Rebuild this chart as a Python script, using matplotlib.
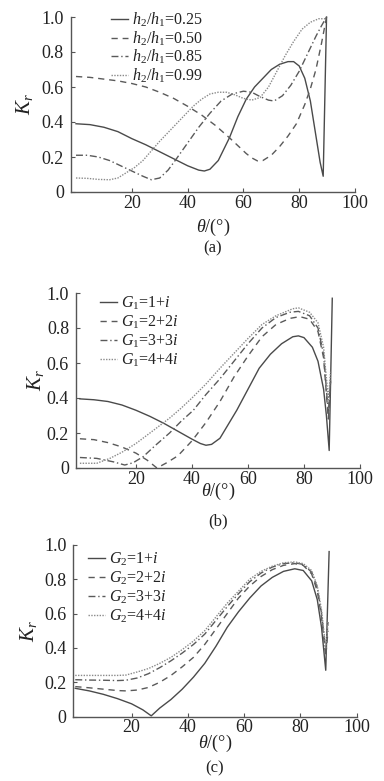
import numpy as np
import matplotlib
matplotlib.use("Agg")
import matplotlib.pyplot as plt

plt.rcParams['font.family'] = ['Liberation Serif', 'DejaVu Serif']
plt.rcParams['mathtext.fontset'] = 'custom'
plt.rcParams['mathtext.rm'] = 'Liberation Serif'
plt.rcParams['mathtext.it'] = 'Liberation Serif:italic'

# ---- panel (a): h2/h1 ----
a_labels = [r'$h_2/h_1$=0.25', r'$h_2/h_1$=0.50', r'$h_2/h_1$=0.85', r'$h_2/h_1$=0.99']
a1_x = [0, 5, 10, 15, 20, 25, 30, 35, 40, 44, 46, 48, 51, 55, 58, 61, 64, 67, 70, 73, 76, 78, 80, 82, 84, 86, 87.5, 88.6, 89.8]
a1_y = [0.39, 0.385, 0.37, 0.345, 0.305, 0.27, 0.23, 0.19, 0.15, 0.125, 0.12, 0.13, 0.18, 0.31, 0.43, 0.53, 0.6, 0.65, 0.7, 0.73, 0.745, 0.745, 0.72, 0.65, 0.52, 0.32, 0.17, 0.09, 1.0]
a2_x = [0, 5, 10, 15, 20, 25, 30, 35, 40, 45, 50, 55, 58, 61, 63, 65, 67, 70, 73, 76, 79, 82, 84, 86, 88, 89.8]
a2_y = [0.66, 0.655, 0.645, 0.635, 0.62, 0.6, 0.57, 0.535, 0.49, 0.44, 0.38, 0.31, 0.265, 0.22, 0.195, 0.178, 0.18, 0.21, 0.26, 0.32, 0.39, 0.5, 0.59, 0.7, 0.85, 1.0]
a3_x = [0, 4, 8, 12, 16, 20, 24, 27, 30, 33, 36, 40, 44, 48, 52, 56, 60, 63, 66, 69, 71, 74, 77, 80, 83, 86, 88, 89.8]
a3_y = [0.21, 0.21, 0.2, 0.18, 0.15, 0.12, 0.09, 0.07, 0.08, 0.125, 0.19, 0.28, 0.37, 0.45, 0.52, 0.56, 0.576, 0.57, 0.545, 0.525, 0.52, 0.55, 0.61, 0.69, 0.79, 0.89, 0.95, 1.0]
a4_x = [0, 4, 8, 12, 15, 18, 21, 24, 27, 30, 33, 36, 39, 42, 45, 48, 51, 54, 57, 60, 63, 66, 69, 72, 75, 78, 81, 84, 87, 89.8]
a4_y = [0.08, 0.078, 0.072, 0.07, 0.08, 0.11, 0.14, 0.18, 0.235, 0.29, 0.34, 0.39, 0.44, 0.49, 0.53, 0.56, 0.57, 0.57, 0.555, 0.535, 0.525, 0.54, 0.6, 0.69, 0.78, 0.86, 0.93, 0.97, 0.99, 0.99]

# ---- panel (b): G1 ----
b_labels = [r'$G_1$=1+$i$', r'$G_1$=2+2$i$', r'$G_1$=3+3$i$', r'$G_1$=4+4$i$']
b1_x = [0, 5, 10, 15, 20, 25, 30, 35, 40, 43, 45, 47, 50, 53, 56, 60, 64, 68, 72, 76, 78, 80, 83, 85, 87, 88, 89, 90.1]
b1_y = [0.395, 0.39, 0.38, 0.36, 0.33, 0.295, 0.255, 0.21, 0.165, 0.14, 0.13, 0.135, 0.17, 0.25, 0.33, 0.45, 0.57, 0.65, 0.71, 0.75, 0.755, 0.745, 0.69, 0.61, 0.45, 0.3, 0.1, 0.97]
b2_x = [0, 5, 10, 15, 20, 24, 27.5, 31, 35, 40, 45, 50, 55, 60, 65, 70, 75, 78.5, 82, 85, 87, 88.7, 89.5]
b2_y = [0.167, 0.162, 0.145, 0.12, 0.085, 0.045, 0.0, 0.03, 0.07, 0.155, 0.26, 0.38, 0.52, 0.64, 0.75, 0.82, 0.855, 0.865, 0.85, 0.78, 0.63, 0.28, 0.5]
b3_x = [0, 6, 12, 16, 19, 22.6, 27, 32, 36, 40.5, 45, 50, 55, 60, 65, 70, 75, 78, 82, 85, 87, 88.7, 89.5]
b3_y = [0.06, 0.055, 0.035, 0.017, 0.03, 0.065, 0.13, 0.2, 0.265, 0.33, 0.42, 0.51, 0.61, 0.71, 0.8, 0.86, 0.89, 0.895, 0.87, 0.8, 0.65, 0.31, 0.5]
b4_x = [0, 6, 10.7, 15, 20, 25, 32, 36, 40, 45, 50, 55, 60, 65, 70, 76, 78, 82, 85, 87, 88.7, 89.5]
b4_y = [0.027, 0.027, 0.055, 0.09, 0.14, 0.2, 0.285, 0.34, 0.4, 0.48, 0.57, 0.655, 0.74, 0.82, 0.87, 0.91, 0.915, 0.89, 0.83, 0.69, 0.39, 0.55]

# ---- panel (c): G2 ----
c_labels = [r'$G_2$=1+$i$', r'$G_2$=2+2$i$', r'$G_2$=3+3$i$', r'$G_2$=4+4$i$']
c1_x = [0, 5, 10, 15, 20, 24, 27, 30, 34, 38, 42, 46, 50, 54, 58, 62, 66, 70, 74, 78, 81, 84, 86, 87.5, 89, 90.2]
c1_y = [0.165, 0.15, 0.13, 0.105, 0.075, 0.04, 0.005, 0.05, 0.1, 0.16, 0.23, 0.31, 0.41, 0.52, 0.61, 0.69, 0.76, 0.81, 0.845, 0.86, 0.85, 0.79, 0.68, 0.52, 0.27, 0.96]
c_x = [0, 5, 10, 15, 18, 22, 26, 30, 34, 38, 42, 46, 50, 54, 58, 62, 66, 70, 74, 78, 81, 84, 86, 87.5, 89, 89.8]
c2_y = [0.175, 0.168, 0.16, 0.152, 0.15, 0.155, 0.17, 0.2, 0.24, 0.29, 0.345, 0.42, 0.51, 0.6, 0.69, 0.76, 0.815, 0.855, 0.88, 0.89, 0.88, 0.83, 0.73, 0.58, 0.35, 0.5]
c3_y = [0.215, 0.213, 0.212, 0.21, 0.212, 0.225, 0.25, 0.285, 0.325, 0.37, 0.42, 0.48, 0.56, 0.64, 0.715, 0.785, 0.835, 0.87, 0.89, 0.895, 0.885, 0.84, 0.75, 0.6, 0.38, 0.55]
c4_y = [0.24, 0.24, 0.24, 0.24, 0.242, 0.26, 0.28, 0.31, 0.345, 0.39, 0.44, 0.5, 0.58, 0.66, 0.73, 0.8, 0.845, 0.875, 0.895, 0.9, 0.89, 0.85, 0.76, 0.62, 0.4, 0.55]

x_ticks = [20, 40, 60, 80, 100]
y_ticks = [0, 0.2, 0.4, 0.6, 0.8, 1.0]
y_ticklabels = ['0', '0.2', '0.4', '0.6', '0.8', '1.0']

styles = [dict(ls='-', color='#4a4a4a', lw=1.0),
          dict(ls=(0, (4.5, 3.5)), color='#5a5a5a', lw=1.0),
          dict(ls=(0, (5, 2, 1, 2)), color='#5a5a5a', lw=1.0),
          dict(ls=(0, (1, 1)), color='#8a8a8a', lw=1.0)]

W, H = 384, 781
fig = plt.figure(figsize=(W / 100, H / 100), dpi=100)


def make_panel(left, right, bottom, top, xmin, series, labels, leg_px, leg_sp,
               ylab_px, xlab_py, cap, cap_py):
    ax = fig.add_axes([left / W, (H - bottom) / H, (right - left) / W, (bottom - top) / H])
    for (xs, ys), st, lab in zip(series, styles, labels):
        ax.plot(xs, ys, label=lab, clip_on=False, **st)
    ax.set_xlim(xmin, 100)
    ax.set_ylim(0, 1)
    ax.set_xticks(x_ticks)
    ax.set_yticks(y_ticks)
    ax.set_yticklabels(y_ticklabels)
    for s in ['top', 'right']:
        ax.spines[s].set_visible(False)
    for s in ['left', 'bottom']:
        ax.spines[s].set_color('#555555')
        ax.spines[s].set_linewidth(1.0)
    ax.tick_params(direction='in', length=3, width=0.8, color='#555555',
                   labelsize=13, labelcolor='#222222')
    ax.tick_params(axis='x', pad=2)
    ax.tick_params(axis='y', pad=5)
    w = right - left
    h = bottom - top
    # label anchors: ylabel right edge, xlabel top edge
    ax.set_ylabel(r'$K_r$', fontsize=15, color='#222222')
    ax.yaxis.set_label_coords((ylab_px - left) / w, 0.5)
    ax.set_xlabel(r'$\theta$/(°)', fontsize=13, color='#222222')
    ax.xaxis.set_label_coords(0.5, (bottom - xlab_py) / h)
    ax.text(0.5, (bottom - cap_py) / h, cap, transform=ax.transAxes,
            ha='center', va='center', fontsize=12, color='#222222')
    ax.legend(loc='upper left', bbox_to_anchor=((leg_px[0] - left) / w, (bottom - leg_px[1]) / h),
              frameon=False, fontsize=11.5, handlelength=1.05, handletextpad=0.25,
              labelspacing=leg_sp, borderpad=0, borderaxespad=0, labelcolor='#222222')
    return ax


make_panel(70.7, 355, 192, 17, -1.9,
           [(a1_x, a1_y), (a2_x, a2_y), (a3_x, a3_y), (a4_x, a4_y)], a_labels,
           (111, 11), 0.0, 35, 217, '(a)', 248)
make_panel(76, 360, 468, 293, -1.4,
           [(b1_x, b1_y), (b2_x, b2_y), (b3_x, b3_y), (b4_x, b4_y)], b_labels,
           (100, 295), 0.1, 46, 481, '(b)', 521)
make_panel(73.3, 356.7, 716.7, 544.7, -0.7,
           [(c1_x, c1_y), (c_x, c2_y), (c_x, c3_y), (c_x, c4_y)], c_labels,
           (88, 551), 0.1, 39, 733, '(c)', 768)

fig.savefig('out.png', dpi=100)
